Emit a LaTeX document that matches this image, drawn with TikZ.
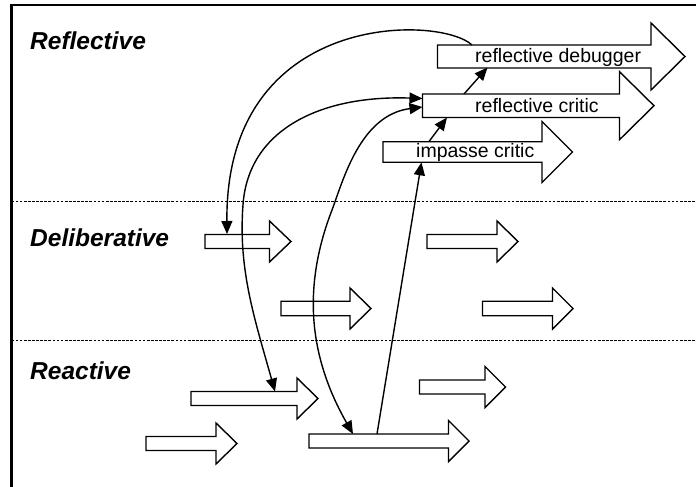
\documentclass[tikz,border=0pt]{standalone}
\usepackage{fontspec}
\setmainfont{Liberation Sans}
\usetikzlibrary{arrows.meta}

\tikzset{
  layer/.style={font=\fontsize{24.5}{28}\selectfont\bfseries\itshape, anchor=base west, inner sep=0pt},
  label/.style={font=\fontsize{19.5}{22}\selectfont, anchor=base west, inner sep=0pt},
  link/.style={line width=1.4pt, -{Triangle[length=13pt,width=11pt]}},
  twolink/.style={line width=1.4pt, {Triangle[length=13pt,width=11pt]}-{Triangle[length=13pt,width=11pt]}},
  border/.style={line width=2.2pt},
  divider/.style={line width=1.5pt, dash pattern=on 2.7pt off 1.4pt},
  shell/.style={line width=1.4pt, fill=white},
}

% block arrow: x start, x head, x tip, y centre, body height, head height
\newcommand{\blockarrow}[6]{%
  \draw[shell] (#1,{#4-#5/2}) -- (#2,{#4-#5/2}) -- (#2,{#4-#6/2}) -- (#3,#4)
    -- (#2,{#4+#6/2}) -- (#2,{#4+#5/2}) -- (#1,{#4+#5/2}) -- cycle;}

\begin{document}
\begin{tikzpicture}[x=1pt,y=-1pt]

\useasboundingbox (0,0) rectangle (696,487);

% Frame
\draw[border] (11.5,490) -- (11.5,5) -- (700,5);

% Layers
\draw[divider] (11.5,201.5) -- (696,201.5);
\draw[divider] (11.5,340.5) -- (696,340.5);

\node[layer] (reflective) at (30,50) {Reflective};
\node[layer] (deliberative) at (30,246.5) {Deliberative};
\node[layer] (reactive) at (30,379) {Reactive};

% Reflective arrows
\blockarrow{383}{542}{572.5}{152}{20.5}{61}
\blockarrow{422.5}{619.5}{654}{105.7}{23.5}{68}
\blockarrow{437.5}{651}{685}{56.5}{23}{67}

\node[label] (impasse) at (416,157.5) {impasse critic};
\node[label] (critic) at (475,112.5) {reflective critic};
\node[label] (debugger) at (475,63) {reflective debugger};

% Deliberative arrows
\blockarrow{205}{269.5}{291}{241.5}{14}{41}
\blockarrow{427}{497}{518}{241.5}{14}{41}
\blockarrow{281}{350}{371}{308.5}{14.5}{41}
\blockarrow{482.5}{552.5}{573}{308.5}{14.5}{41}

% Reactive arrows
\blockarrow{191}{297}{318}{398.5}{14}{41}
\blockarrow{419.5}{485}{505.5}{387}{14}{41}
\blockarrow{146}{216}{237}{443.5}{14}{41}
\blockarrow{309}{448.5}{469}{441}{14}{41}

% Attachment points
\coordinate (debugger-top) at (472,45);
\coordinate (debugger-foot) at (487.5,67.5);
\coordinate (critic-top) at (464,94);
\coordinate (critic-foot) at (447,117.5);
\coordinate (critic-in1) at (422.5,98.5);
\coordinate (critic-in2) at (422.5,107);
\coordinate (impasse-top) at (429,141.5);
\coordinate (impasse-foot) at (421.5,162.3);
\coordinate (delib-top) at (227,234);
\coordinate (react-top) at (275,391.5);
\coordinate (long-top1) at (353,434);
\coordinate (long-top2) at (377,434);

% Links
\draw[link] (impasse-top) -- (critic-foot);
\draw[link] (critic-top) -- (debugger-foot);
\draw[link] (long-top2) -- (impasse-foot);
\draw[link] (debugger-top) .. controls (440,15) and (225,10) .. (delib-top);
\draw[twolink] (react-top) .. controls (255,320) and (238,270) .. (243,205)
  .. controls (248,130) and (320,95) .. (critic-in1);
\draw[twolink] (long-top1) .. controls (305,350) and (305,280) .. (332,210)
  .. controls (343,181) and (360,115) .. (critic-in2);

\end{tikzpicture}
\end{document}
